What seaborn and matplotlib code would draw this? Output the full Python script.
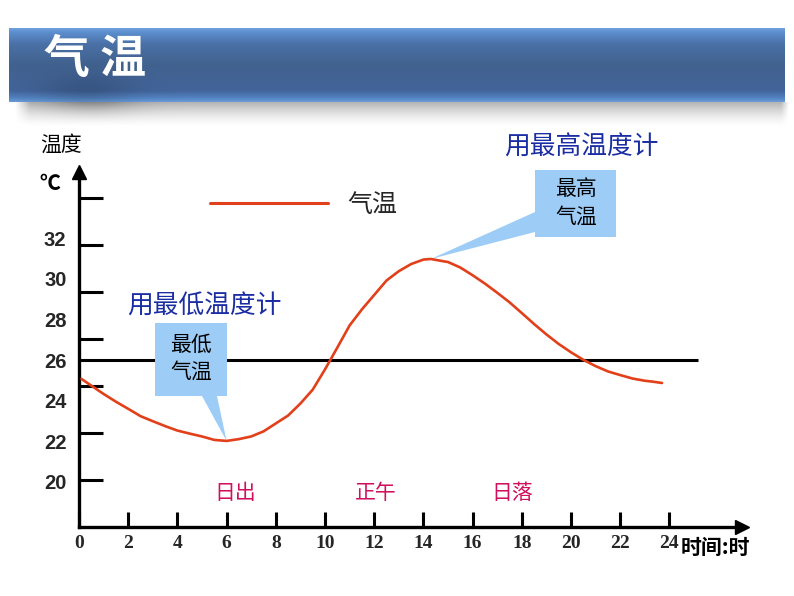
import numpy as np
import matplotlib
matplotlib.use("Agg")
import matplotlib.pyplot as plt
import matplotlib.colors as mcolors
from matplotlib.patches import Polygon
import seaborn as sns

# ---------------- data ----------------
hours = [0.1, 0.5, 1, 1.5, 2, 2.5, 3, 3.5, 4, 4.5, 5, 5.5, 6, 6.5, 7, 7.5, 8, 8.5, 9, 9.5,
         10, 10.5, 11, 11.5, 12, 12.5, 13, 13.5, 14, 14.3, 14.8, 15, 15.5, 16, 16.5, 17,
         17.5, 18, 18.5, 19, 19.5, 20, 20.5, 21, 21.5, 22, 22.5, 23, 23.3, 23.7]
temps = [25.07, 24.74, 24.33, 23.95, 23.60, 23.24, 22.99, 22.75, 22.53, 22.38, 22.24, 22.07,
         22.02, 22.11, 22.24, 22.49, 22.88, 23.27, 23.86, 24.54, 25.54, 26.61, 27.70, 28.49,
         29.20, 29.91, 30.37, 30.72, 30.94, 30.97, 30.86, 30.82, 30.55, 30.17, 29.76, 29.31,
         28.84, 28.31, 27.77, 27.26, 26.79, 26.38, 26.01, 25.70, 25.44, 25.26, 25.09, 24.98,
         24.94, 24.87]
ref_temp = 26
x_ticks = [0, 2, 4, 6, 8, 10, 12, 14, 16, 18, 20, 22, 24]
x_labels = ["0", "2", "4", "6", "8", "10", "12", "14", "16", "18", "20", "22", "24"]
y_labels = [20, 22, 24, 26, 28, 30, 32]
day_events = ["日出", "正午", "日落"]
day_event_hours = [6.34, 12.07, 17.6]
min_point = (6.0, 22.02)
max_point = (14.3, 30.97)
title = "气 温"
series_name = "气温"

# ---------------- style ----------------
sns.set_style("white")
CJK = "Noto Sans CJK SC"
plt.rcParams["font.family"] = [CJK, "DejaVu Sans"]

W, H = 794, 596
fig = plt.figure(figsize=(W / 100, H / 100), dpi=100)
fig.patch.set_facecolor("white")

# background axes in pixel coordinates (title banner)
bg = fig.add_axes([0, 0, 1, 1], zorder=0)
bg.set_xlim(0, W)
bg.set_ylim(H, 0)
bg.axis("off")

# banner gradient
bx0, bx1, by0, by1 = 9, 785, 28, 102
nrow, ncol = 150, 400
t = np.linspace(0, 1, nrow)
keys = [(0.0, "#6fa2de"), (0.05, "#5d8fcf"), (0.22, "#4a70a5"), (0.5, "#41628f"),
        (0.85, "#42649a"), (0.95, "#5384c3"), (1.0, "#6a9ad8")]
kp = np.array([k[0] for k in keys])
kc = np.array([mcolors.to_rgb(k[1]) for k in keys])
col = np.stack([np.interp(t, kp, kc[:, i]) for i in range(3)], axis=1)
img = np.repeat(col[:, None, :], ncol, axis=1)
xs = np.linspace(bx0, bx1, ncol)
ys = np.linspace(by0, by1, nrow)
XX, YY = np.meshgrid(xs, ys)
blob = 1 - 0.15 * np.exp(-((XX - 85) / 45) ** 2 - ((YY - 92) / 18) ** 2)
img = img * blob[:, :, None]
bg.imshow(img, extent=(bx0, bx1, by1, by0), aspect="auto", interpolation="bilinear", zorder=1)

# shadow under the banner
sx0, sx1, sy0, sy1 = 14, 790, 102, 128
sh = np.zeros((60, 400, 4))
st = np.linspace(0, 1, 60)
sxs = np.linspace(sx0, sx1, 400)
SX, ST = np.meshgrid(sxs, st)
alpha = 0.30 * (1 - ST) ** 1.6
alpha += 0.18 * np.exp(-((SX - 90) / 45) ** 2) * (1 - ST) ** 2
edge = np.clip((SX - sx0) / 15, 0, 1) * np.clip((sx1 - SX) / 8, 0, 1)
sh[:, :, 3] = np.clip(alpha * edge, 0, 1)
bg.imshow(sh, extent=(sx0, sx1, sy1, sy0), aspect="auto", interpolation="bilinear", zorder=0.5)
bg.text(44, 60, title, color="white", fontsize=33, fontweight="bold", va="center", ha="left",
        family=[CJK, "DejaVu Sans"], zorder=3)

# ---------------- main axes ----------------
px0, py_axis, px_end, py_top = 79, 527, 742, 172
pxu, pyu = 24.6, 20.33  # pixels per hour, pixels per degree (for layout only)
ax = fig.add_axes([px0 / W, (H - py_axis) / H, (px_end - px0) / W, (py_axis - py_top) / H], zorder=2)
ax.patch.set_alpha(0)
ax.set_xlim(0, (px_end - px0) / pxu)
ax.set_ylim(20 - (py_axis - 482) / pyu, 20 + (482 - py_top) / pyu)

for s in ["top", "right"]:
    ax.spines[s].set_visible(False)
for s in ["left", "bottom"]:
    ax.spines[s].set_linewidth(2.4)
    ax.spines[s].set_color("black")
ax.plot(1, 0, ">", color="black", markersize=10, transform=ax.transAxes, clip_on=False)
ax.plot(0, 1, "^", color="black", markersize=10, transform=ax.transAxes, clip_on=False)

ax.set_xticks(x_ticks)
ax.set_xticklabels(x_labels)
for lab in ax.get_xticklabels():
    lab.set_fontfamily("Liberation Serif")
    lab.set_fontweight("bold")
    lab.set_fontsize(14)
ax.tick_params(axis="x", which="major", bottom=True, direction="in", length=11, width=2.2,
               color="black", pad=6)

ax.set_yticks(y_labels)
ax.set_yticklabels([str(v) for v in y_labels])
for lab in ax.get_yticklabels():
    lab.set_fontfamily("Liberation Sans")
    lab.set_fontweight("bold")
    lab.set_fontsize(14.5)
ax.tick_params(axis="y", which="major", left=True, length=0, pad=9)
y_marks = np.linspace(20.1, 33.97, 7)
ax.set_yticks(y_marks, minor=True)
ax.tick_params(axis="y", which="minor", left=True, direction="in", length=17, width=2.2,
               color="black")
ax.set_xlabel("")
ax.set_ylabel("")
ax.grid(False)

# reference line at 26
ax.hlines(ref_temp, 0, 25.16, color="black", linewidth=2.2, zorder=2)

# temperature curve
sns.lineplot(x=hours, y=temps, ax=ax, color="#e2401a", linewidth=1.9, label=series_name,
             zorder=4, sort=False, solid_joinstyle="round", solid_capstyle="round")

def dx(p):
    return (p - px0) / pxu

def dy(p):
    return 20 + (482 - p) / pyu

box_col = "#9dcdf7"
low_poly = [(dx(155), dy(323)), (dx(227), dy(323)), (dx(227), dy(396)), (dx(217), dy(396)),
            min_point, (dx(202), dy(396)), (dx(155), dy(396))]
ax.add_patch(Polygon(low_poly, closed=True, facecolor=box_col, edgecolor="none", zorder=3,
                     clip_on=False))
high_poly = [(dx(535), dy(170)), (dx(616), dy(170)), (dx(616), dy(237)), (dx(535), dy(237)),
             (dx(535), dy(232)), max_point, (dx(535), dy(212))]
ax.add_patch(Polygon(high_poly, closed=True, facecolor=box_col, edgecolor="none", zorder=3,
                     clip_on=False))
ax.text(dx(191), dy(358), "最低\n气温", ha="center", va="center", fontsize=15, linespacing=1.3,
        color="black", zorder=5)
ax.text(dx(576), dy(203), "最高\n气温", ha="center", va="center", fontsize=15, linespacing=1.3,
        color="black", zorder=5)

blue = "#1b2da3"
ax.text(dx(127), dy(307), "用最低温度计", ha="left", va="center", fontsize=18.5, color=blue,
        clip_on=False)
ax.text(dx(504), dy(148), "用最高温度计", ha="left", va="center", fontsize=18.5, color=blue,
        clip_on=False)

for name, hx in zip(day_events, day_event_hours):
    ax.text(hx, dy(493), name, ha="center", va="center", fontsize=15, color="#d0105e")

ax.text(dx(40), dy(145), "温度", ha="left", va="center", fontsize=15, color="black",
        clip_on=False)
ax.text(dx(39), dy(183), "℃", ha="left", va="center", fontsize=15, color="black",
        fontweight="bold", clip_on=False)
ax.text(dx(681), dy(547), "时间:时", ha="left", va="center", fontsize=15, fontweight="bold",
        color="black", clip_on=False)

leg = ax.legend(loc="center left", bbox_to_anchor=(dx(210), dy(205)), bbox_transform=ax.transData,
                frameon=False, handlelength=4.7, handletextpad=0.8, borderpad=0, borderaxespad=0,
                prop={"family": CJK, "size": 18})
for h in leg.get_lines():
    h.set_linewidth(2.2)

fig.savefig("out.png", dpi=100, facecolor="white")
